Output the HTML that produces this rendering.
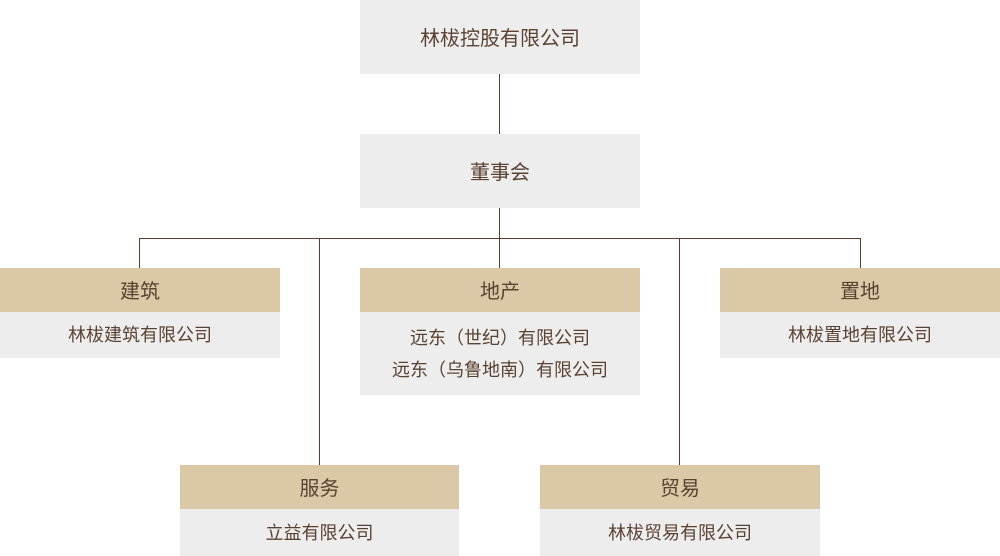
<!DOCTYPE html>
<html><head><meta charset="utf-8"><style>
body{margin:0;width:1000px;height:556px;position:relative;background:#fff;font-family:"Liberation Sans","Noto Sans CJK SC",sans-serif;color:#5a4232;overflow:hidden}
.b{position:absolute;display:flex;align-items:center;justify-content:center;flex-direction:column;text-align:center;box-sizing:border-box;padding-bottom:2px}
.g{background:#ededed}
.h{background:#dbc8a6;font-size:20px}
.t{font-size:20px}
.s{font-size:18px;line-height:32px;padding-bottom:0}
.l{position:absolute;background:#5a3e2b}
</style></head><body>
<div class="b g t" style="left:360px;top:0;width:280px;height:74px">林柭控股有限公司</div>
<div class="l" style="left:499px;top:74px;width:1px;height:60px"></div>
<div class="b g t" style="left:360px;top:134px;width:280px;height:74px">董事会</div>
<div class="l" style="left:499px;top:208px;width:1px;height:60px"></div>
<div class="l" style="left:139px;top:238px;width:722px;height:1px"></div>
<div class="l" style="left:139px;top:238px;width:1px;height:30px"></div>
<div class="l" style="left:860px;top:238px;width:1px;height:30px"></div>
<div class="l" style="left:319px;top:238px;width:1px;height:227px"></div>
<div class="l" style="left:679px;top:238px;width:1px;height:227px"></div>

<div class="b h" style="left:0;top:268px;width:280px;height:44px">建筑</div>
<div class="b g s" style="left:0;top:312px;width:280px;height:46px">林柭建筑有限公司</div>

<div class="b h" style="left:360px;top:268px;width:280px;height:44px">地产</div>
<div class="b g s" style="left:360px;top:312px;width:280px;height:83px"><div>远东（世纪）有限公司</div><div>远东（乌鲁地南）有限公司</div></div>

<div class="b h" style="left:720px;top:268px;width:280px;height:44px">置地</div>
<div class="b g s" style="left:720px;top:312px;width:280px;height:46px">林柭置地有限公司</div>

<div class="b h" style="left:180px;top:465px;width:279px;height:44px">服务</div>
<div class="b g s" style="left:180px;top:509px;width:279px;height:47px">立益有限公司</div>

<div class="b h" style="left:540px;top:465px;width:280px;height:44px">贸易</div>
<div class="b g s" style="left:540px;top:509px;width:280px;height:47px">林柭贸易有限公司</div>
</body></html>
